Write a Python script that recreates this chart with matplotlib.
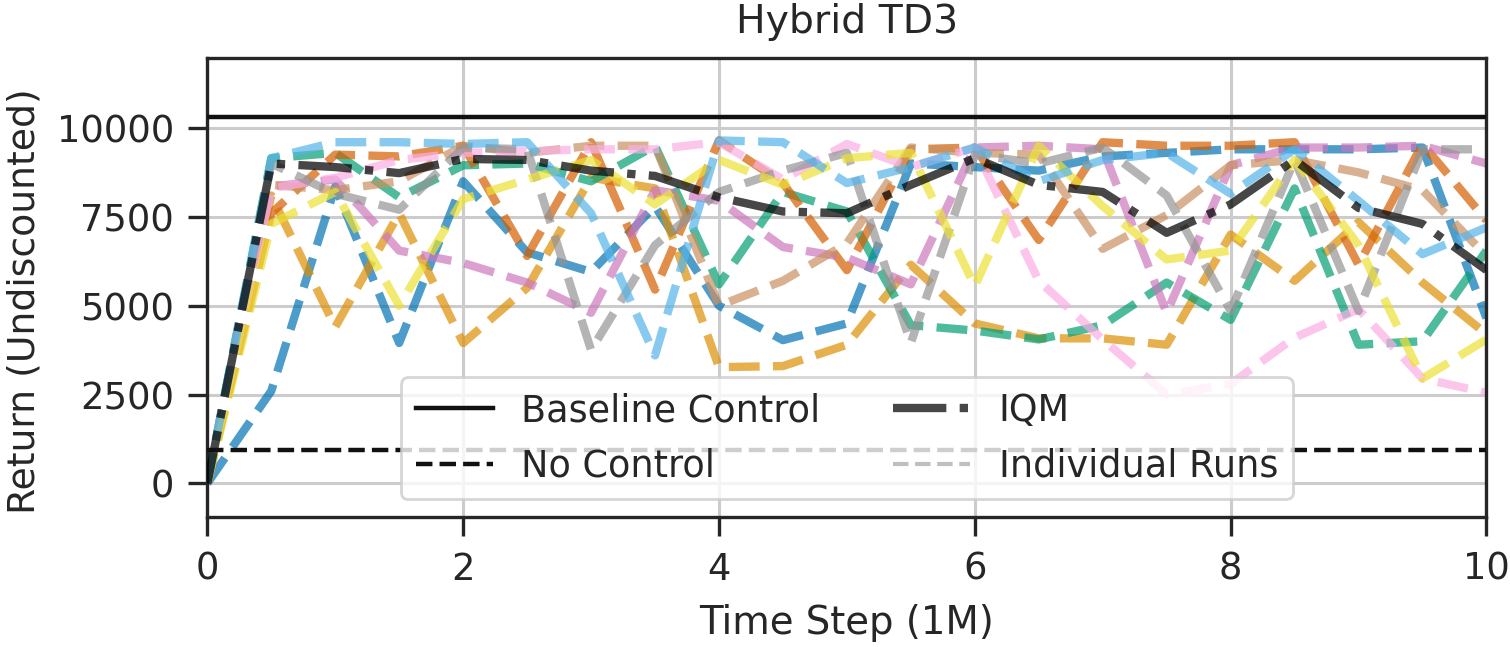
import matplotlib
matplotlib.use("Agg")
import matplotlib.pyplot as plt
from matplotlib.lines import Line2D

# ---------------- data ----------------
time_steps = [0, 0.5, 1, 1.5, 2, 2.5, 3, 3.5, 4, 4.5, 5, 5.5, 6, 6.5, 7, 7.5, 8, 8.5, 9, 9.5, 10]

run_blue = [0, 2600, 8350, 3950, 8500, 6500, 5950, 7800, 5000, 4030, 4500, 9000, 8900, 8800, 9200, 9300, 9400, 9400, 9400, 9450, 4650]
run_orange = [0, 8100, 4400, 7600, 3950, 5500, 8600, 8300, 3270, 3300, 3900, 6150, 4500, 4080, 4080, 3900, 7000, 5700, 7350, 5650, 4200]
run_green = [0, 9150, 9300, 8050, 8950, 9000, 8500, 9500, 5600, 8200, 7650, 4450, 4300, 4050, 4450, 5650, 4600, 8300, 3900, 4000, 6550]
run_vermilion = [0, 7600, 9250, 9200, 9500, 6400, 9600, 5450, 9650, 8450, 6000, 9400, 9450, 6850, 9600, 9500, 9500, 9600, 6150, 9550, 7400]
run_purple = [0, 8350, 8550, 6550, 6200, 5650, 4800, 8250, 7950, 6650, 6350, 5600, 9450, 9500, 9400, 4800, 8950, 9450, 9450, 9500, 9000]
run_tan = [0, 8400, 8250, 8500, 9500, 9300, 9500, 9500, 5000, 5700, 6750, 9450, 9300, 9250, 6600, 7550, 8950, 9100, 8750, 8250, 6400]
run_pink = [0, 8300, 8600, 9100, 9300, 9350, 9400, 9400, 9600, 8550, 9550, 8900, 9450, 5700, 4050, 2500, 2800, 4100, 4900, 2950, 2550]
run_gray = [0, 9000, 8150, 7700, 9450, 9400, 3750, 6700, 8200, 8800, 9300, 3950, 9250, 9000, 9450, 8100, 4850, 9100, 4850, 9400, 9400]
run_yellow = [0, 7300, 8200, 5000, 8000, 8550, 9100, 7850, 9100, 8400, 9150, 9300, 5550, 9500, 7800, 6300, 6550, 9100, 6700, 2950, 4050]
run_lightblue = [0, 9150, 9600, 9600, 9550, 9600, 7600, 3600, 9650, 9600, 8450, 8900, 9450, 8500, 9100, 9300, 8150, 9400, 7950, 6450, 7200]

runs = [run_blue, run_orange, run_green, run_vermilion, run_purple,
        run_tan, run_pink, run_gray, run_yellow, run_lightblue]

iqm = [0, 9000, 8900, 8730, 9130, 9100, 8800, 8650, 8050, 7650, 7600, 8400, 9150, 8400, 8200, 7050, 7850, 9100, 7750, 7300, 6000]

baseline_control = 10310
no_control = 930

title = "Hybrid TD3"
xlabel = "Time Step (1M)"
ylabel = "Return (Undiscounted)"
yticks = [0, 2500, 5000, 7500, 10000]
xticks = [0, 2, 4, 6, 8, 10]
legend_labels = ["Baseline Control", "No Control", "IQM", "Individual Runs"]

palette = ['#0173b2', '#de8f05', '#029e73', '#d55e00', '#cc78bc',
           '#ca9161', '#fbafe4', '#949494', '#ece133', '#56b4e9']

# ---------------- plot ----------------
TXT = "#262626"
plt.rcParams['font.family'] = ['DejaVu Sans']
fig = plt.figure(figsize=(7.55, 3.235), dpi=200)
ax = fig.add_axes([0.1373, 0.2002, 0.8471, 0.7102])

ax.grid(True, color="#cccccc", lw=1.1, zorder=0)
ax.set_axisbelow(True)

for r, c in zip(runs, palette):
    ax.plot(time_steps, r, ls='--', color=c, lw=3, alpha=0.7, zorder=2)

ax.plot(time_steps, iqm, ls='-.', color='black', lw=3, alpha=0.72, zorder=3)
ax.axhline(baseline_control, color='#111111', lw=1.6, zorder=4)
ax.axhline(no_control, color='#111111', lw=1.6, ls='--', zorder=4)

ax.set_xlim(0, 10)
ax.set_ylim(-960, 11970)
ax.set_xticks(xticks)
ax.set_yticks(yticks)

for s in ax.spines.values():
    s.set_color(TXT)
    s.set_linewidth(1.2)
ax.tick_params(direction='out', length=7, width=1.2, color=TXT,
               labelsize=13.3, labelcolor=TXT, pad=5)

ax.set_title(title, fontsize=14.2, color=TXT, pad=9)
ax.set_xlabel(xlabel, fontsize=13.9, color=TXT, labelpad=6)
ax.set_ylabel(ylabel, fontsize=13.6, color=TXT)
ax.yaxis.set_label_coords(-0.129, 0.47)

handles = [
    Line2D([], [], color='#111111', lw=1.6, ls='-'),
    Line2D([], [], color='#111111', lw=1.6, ls='--'),
    Line2D([], [], color='black', lw=3, ls='-.', alpha=0.72),
    Line2D([], [], color='gray', lw=1.5, ls='--', alpha=0.5),
]
leg = ax.legend(handles, legend_labels, ncol=2, loc='lower center',
                fontsize=13.2, handlelength=2.1, handletextpad=0.77,
                framealpha=0.8, edgecolor='#cccccc')
for t in leg.get_texts():
    t.set_color(TXT)
leg.set_zorder(5)

fig.savefig("out.png", dpi=200)
